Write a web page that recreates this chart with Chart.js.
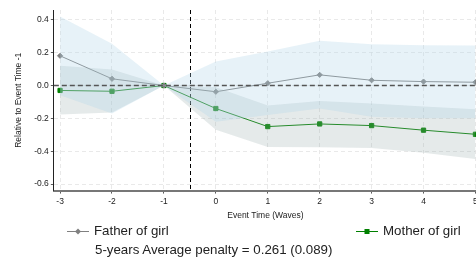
<!DOCTYPE html>
<html>
<head>
<meta charset="utf-8">
<script src="https://cdn.jsdelivr.net/npm/chart.js@4/dist/chart.umd.min.js"></script>
<style>
    html, body { margin: 0; padding: 0; background: #fff; }
    #wrap { position: relative; width: 476px; height: 262px; overflow: hidden; }
    #chart { position: absolute; left: 0; top: 0; }
    .legend { position: absolute; font-family: "Liberation Sans", Arial, sans-serif; font-size: 13.3px; color: #222; white-space: nowrap; }
    .legend canvas { vertical-align: middle; margin-right: 5px; }
</style>
</head>
<body>
<div id="wrap">
    <canvas id="chart" width="482" height="262"></canvas>
    <div class="legend" style="left:67px; top:223px;"><canvas id="mk-father" width="22" height="10"></canvas>Father of girl</div>
    <div class="legend" style="left:356px; top:223px;"><canvas id="mk-mother" width="22" height="10"></canvas>Mother of girl</div>
    <div class="legend" style="left:95px; top:242px;">5-years Average penalty = 0.261 (0.089)</div>
</div>
<script>
const eventTimes = [-3, -2, -1, 0, 1, 2, 3, 4, 5];

const fatherCoef  = [0.181, 0.041, 0, -0.038, 0.014, 0.065, 0.032, 0.024, 0.020];
const fatherUpper = [0.42, 0.254, 0, 0.146, 0.207, 0.272, 0.252, 0.246, 0.244];
const fatherLower = [-0.06, -0.17, 0, -0.22, -0.18, -0.14, -0.19, -0.20, -0.20];

const motherCoef  = [-0.030, -0.035, 0, -0.140, -0.250, -0.234, -0.244, -0.272, -0.297];
const motherUpper = [0.12, 0.097, 0, -0.01, -0.122, -0.094, -0.11, -0.128, -0.145];
const motherLower = [-0.177, -0.165, 0, -0.27, -0.375, -0.376, -0.38, -0.41, -0.447];

const yTicks = [-0.6, -0.4, -0.2, 0.0, 0.2, 0.4];
const treatmentLine = -0.5;

const FATHER_COLOR = '#808080';
const MOTHER_COLOR = '#008000';

function pts(ys) {
    return eventTimes.map((x, i) => ({ x: x, y: ys[i] }));
}

function band(ys, fill, color) {
    return {
        data: pts(ys),
        borderWidth: 0,
        pointRadius: 0,
        backgroundColor: color,
        fill: fill,
        tension: 0
    };
}

// dashed reference lines: zero line and vertical line before treatment
const refLines = {
    id: 'refLines',
    beforeDatasetsDraw(chart) {
        const { ctx, chartArea, scales } = chart;
        ctx.save();
        ctx.setLineDash([4, 3]);
        ctx.lineWidth = 1;
        ctx.strokeStyle = '#000';
        const vx = Math.round(scales.x.getPixelForValue(treatmentLine)) + 0.5;
        ctx.beginPath();
        ctx.moveTo(vx, chartArea.top);
        ctx.lineTo(vx, chartArea.bottom);
        ctx.stroke();
        ctx.restore();
    },
    afterDatasetsDraw(chart) {
        const { ctx, chartArea, scales } = chart;
        ctx.save();
        ctx.setLineDash([5, 3]);
        ctx.lineWidth = 1.3;
        ctx.strokeStyle = '#555';
        const y0 = scales.y.getPixelForValue(0);
        ctx.beginPath();
        ctx.moveTo(chartArea.left, y0);
        ctx.lineTo(chartArea.right, y0);
        ctx.stroke();
        ctx.restore();
    }
};

new Chart(document.getElementById('chart'), {
    type: 'line',
    data: {
        datasets: [
            band(fatherUpper, '+1', 'rgba(176, 211, 232, 0.3)'),
            band(fatherLower, false, 'rgba(176, 211, 232, 0.3)'),
            band(motherUpper, '+1', 'rgba(150, 170, 170, 0.25)'),
            band(motherLower, false, 'rgba(150, 170, 170, 0.25)'),
            {
                label: 'Father of girl',
                data: pts(fatherCoef),
                borderColor: FATHER_COLOR,
                backgroundColor: FATHER_COLOR,
                borderWidth: 1,
                pointStyle: 'rectRot',
                pointRadius: 2.6,
                fill: false,
                tension: 0
            },
            {
                label: 'Mother of girl',
                data: pts(motherCoef),
                borderColor: MOTHER_COLOR,
                backgroundColor: MOTHER_COLOR,
                borderWidth: 1,
                pointStyle: 'rect',
                pointRadius: 3,
                fill: false,
                tension: 0
            }
        ]
    },
    options: {
        responsive: false,
        animation: false,
        layout: { padding: { top: 10, right: 0, bottom: 41, left: 14 } },
        plugins: {
            legend: { display: false },
            tooltip: { enabled: false }
        },
        scales: {
            x: {
                type: 'linear',
                min: -3.12,
                max: 5.03,
                afterBuildTicks: (axis) => { axis.ticks = eventTimes.map(v => ({ value: v })); },
                ticks: {
                    color: '#222',
                    font: { family: 'Liberation Sans', size: 8.5 },
                    padding: 3,
                    maxRotation: 0,
                    autoSkip: false,
                    callback: (v) => String(v)
                },
                grid: {
                    color: '#e3e3e3',
                    lineWidth: 0.8,
                    tickColor: '#333',
                    tickLength: 3,
                    drawTicks: true
                },
                border: { color: '#777', width: 2, dash: [4, 3] },
                title: {
                    display: true,
                    text: 'Event Time (Waves)',
                    color: '#222',
                    font: { family: 'Liberation Sans', size: 8.5 },
                    padding: { top: 1, bottom: 0 }
                }
            },
            y: {
                min: -0.64,
                max: 0.46,
                afterBuildTicks: (axis) => { axis.ticks = yTicks.map(v => ({ value: v })); },
                ticks: {
                    color: '#222',
                    font: { family: 'Liberation Sans', size: 8.5 },
                    padding: 2,
                    callback: (v) => v.toFixed(1)
                },
                grid: {
                    color: '#e3e3e3',
                    lineWidth: 0.8,
                    tickColor: '#333',
                    tickLength: 3
                },
                border: { color: '#222', width: 1, dash: [4, 3] },
                title: {
                    display: true,
                    text: 'Relative to Event Time -1',
                    color: '#222',
                    font: { family: 'Liberation Sans', size: 8.5 },
                    padding: { top: 0, bottom: 8 }
                }
            }
        }
    },
    plugins: [refLines]
});

// small legend markers
function drawMarker(id, color, style) {
    const c = document.getElementById(id).getContext('2d');
    c.strokeStyle = color;
    c.fillStyle = color;
    c.lineWidth = 1;
    c.beginPath();
    c.moveTo(0, 5.5);
    c.lineTo(22, 5.5);
    c.stroke();
    c.beginPath();
    if (style === 'diamond') {
        c.moveTo(11, 2.5); c.lineTo(14, 5.5); c.lineTo(11, 8.5); c.lineTo(8, 5.5);
        c.closePath();
        c.fill();
    } else {
        c.fillRect(8.5, 3, 5, 5);
    }
}
drawMarker('mk-father', FATHER_COLOR, 'diamond');
drawMarker('mk-mother', MOTHER_COLOR, 'square');
</script>
</body>
</html>
